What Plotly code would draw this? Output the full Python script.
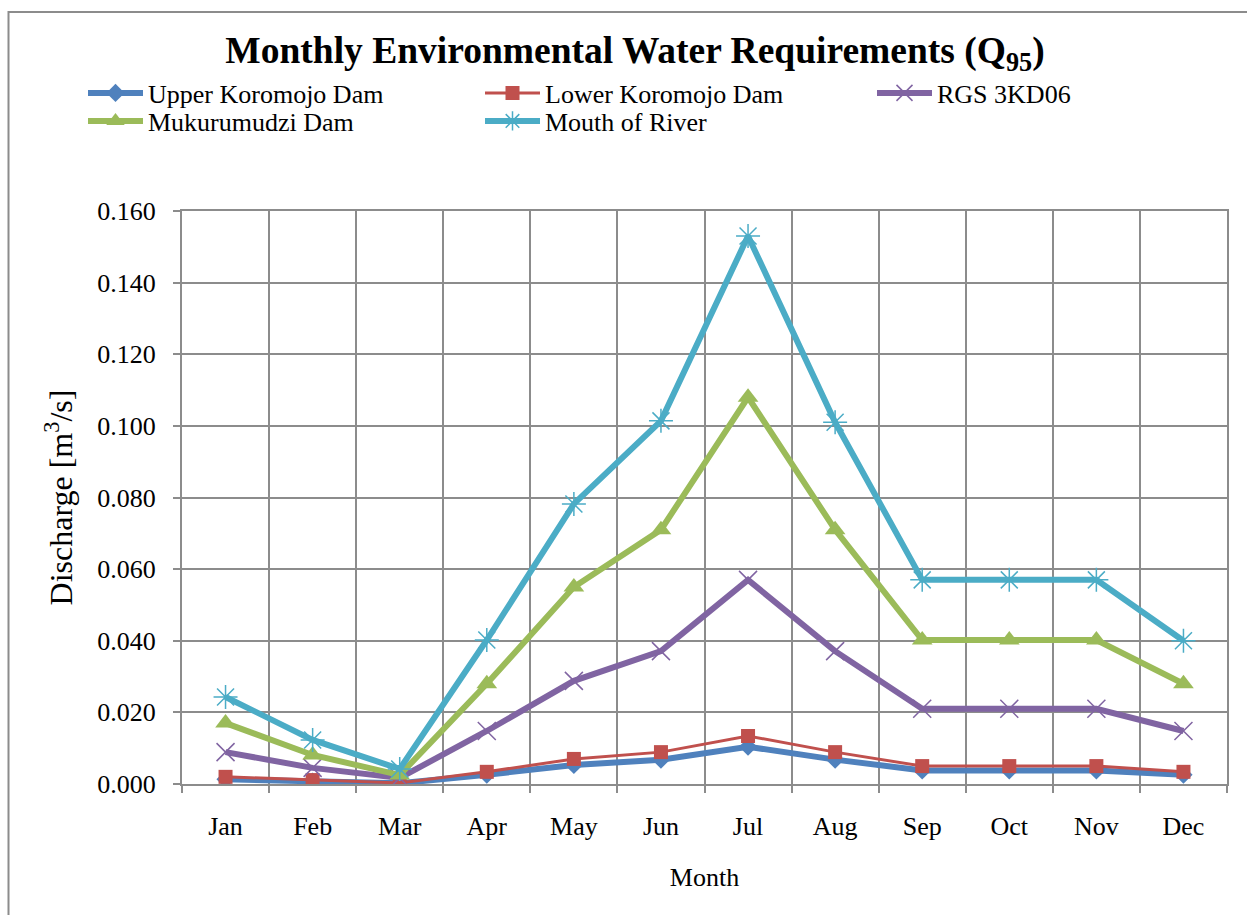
import plotly.graph_objects as go

months = ["Jan", "Feb", "Mar", "Apr", "May", "Jun", "Jul", "Aug", "Sep", "Oct", "Nov", "Dec"]

upper_koromojo = [0.0013, 0.0007, 0.0002, 0.0026, 0.0053, 0.0068, 0.0104, 0.0068, 0.0038, 0.0038, 0.0038, 0.0026]
lower_koromojo = [0.0020, 0.0011, 0.0003, 0.0034, 0.0070, 0.0089, 0.0134, 0.0089, 0.0050, 0.0050, 0.0050, 0.0034]
rgs_3kd06 = [0.0089, 0.0045, 0.0017, 0.0148, 0.0288, 0.0371, 0.0570, 0.0371, 0.0210, 0.0210, 0.0210, 0.0148]
mukurumudzi = [0.0170, 0.0081, 0.0025, 0.0280, 0.0550, 0.0710, 0.1080, 0.0710, 0.0402, 0.0402, 0.0402, 0.0280]
mouth_of_river = [0.0243, 0.0123, 0.0042, 0.0402, 0.0782, 0.1014, 0.1530, 0.1010, 0.0570, 0.0570, 0.0570, 0.0400]

y_ticks = [0.0, 0.02, 0.04, 0.06, 0.08, 0.10, 0.12, 0.14, 0.16]

# (name, values, colour, line width, marker, legend slot)
series = [
    ("Upper Koromojo Dam", upper_koromojo, "#4F81BD", 6, dict(symbol="diamond", size=14), "legend"),
    ("Lower Koromojo Dam", lower_koromojo, "#C0504D", 3, dict(symbol="square", size=14), "legend"),
    ("RGS 3KD06", rgs_3kd06, "#8064A2", 6, dict(symbol="x-thin-open", size=18, line=dict(width=1.5)), "legend3"),
    ("Mukurumudzi Dam", mukurumudzi, "#9BBB59", 6, dict(symbol="triangle-up", size=18), "legend2"),
    ("Mouth of River", mouth_of_river, "#4BACC6", 6, dict(symbol="asterisk-open", size=20, line=dict(width=1.5)), "legend2"),
]

fig = go.Figure()
for name, vals, color, lw, mk, leg in series:
    marker = dict(color=color, symbol=mk["symbol"], size=mk["size"])
    if "line" in mk:
        marker["line"] = dict(color=color, width=mk["line"]["width"])
    fig.add_trace(go.Scatter(
        x=months, y=vals, name=name, mode="lines+markers",
        line=dict(color=color, width=lw), marker=marker, legend=leg,
    ))

serif = "Liberation Serif"
grid = "#8C8C8C"
M_L, M_R, M_T, M_B = 182, 20, 211, 131
PW = 1247 - M_L - M_R
PH = 915 - M_T - M_B


def px_x(p):
    return (p - M_L) / PW


def px_y(p):
    return (915 - M_B - p) / PH


legend_common = dict(
    orientation="h", xanchor="left", yanchor="middle",
    entrywidthmode="pixels", itemwidth=55,
    font=dict(family=serif, size=26, color="black"),
    bgcolor="rgba(0,0,0,0)",
)

fig.update_layout(
    width=1247, height=915,
    margin=dict(l=M_L, r=M_R, t=M_T, b=M_B, autoexpand=False),
    paper_bgcolor="white", plot_bgcolor="white",
    font=dict(family=serif, size=26, color="black"),
    title=dict(
        text="<b>Monthly Environmental Water Requirements (Q<sub>95</sub>)</b>",
        x=635 / 1247, xanchor="center", y=1 - 50 / 915, yanchor="middle",
        font=dict(family=serif, size=37.5, color="black"),
    ),
    legend=dict(x=px_x(83), y=px_y(93), entrywidth=327, **legend_common),
    legend2=dict(x=px_x(83), y=px_y(121), entrywidth=327, **legend_common),
    legend3=dict(x=px_x(872), y=px_y(93), entrywidth=150, **legend_common),
    showlegend=True,
    xaxis=dict(
        type="category", tickson="boundaries", range=[-0.5, 11.5],
        showgrid=True, gridcolor=grid, gridwidth=2,
        showline=True, linecolor=grid, linewidth=2, mirror=True,
        ticks="outside", ticklen=7, tickcolor=grid, tickwidth=2,
        ticklabelstandoff=18,
        tickfont=dict(family=serif, size=26),
        title=dict(text="Month", font=dict(family=serif, size=26), standoff=28),
        zeroline=False,
    ),
    yaxis=dict(
        range=[0, 0.16], tickvals=y_ticks, tickformat=".3f",
        showgrid=True, gridcolor=grid, gridwidth=2,
        showline=True, linecolor=grid, linewidth=2, mirror=True,
        ticks="outside", ticklen=7, tickcolor=grid, tickwidth=2,
        ticklabelstandoff=12,
        tickfont=dict(family=serif, size=26),
        title=dict(text="Discharge [m<sup>3</sup>/s]", font=dict(family=serif, size=32), standoff=15),
        zeroline=False,
    ),
)

# Outer chart-area frame
fig.add_shape(
    type="rect", xref="paper", yref="paper",
    x0=px_x(8.5), x1=1.1, y0=-0.3, y1=px_y(12),
    line=dict(color="#8C8C8C", width=2), fillcolor="rgba(0,0,0,0)", layer="below",
)

fig.write_html("out.html")
